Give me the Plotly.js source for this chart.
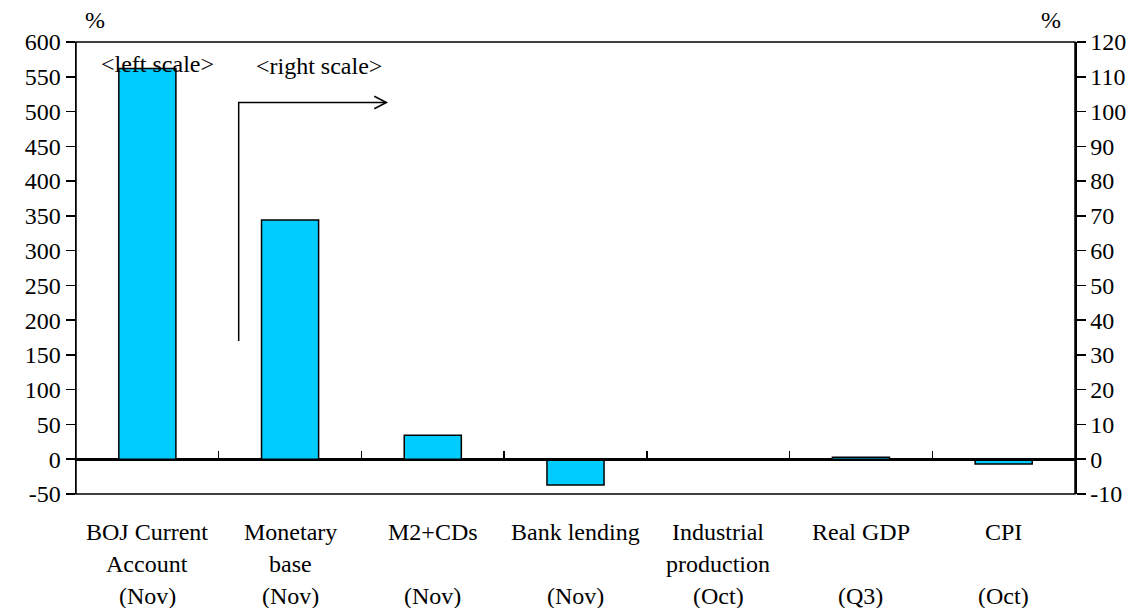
<!DOCTYPE html>
<html>
<head>
<meta charset="utf-8">
<script src="https://cdn.plot.ly/plotly-3.0.1.min.js"></script>
<style>html,body{margin:0;padding:0;background:#fff;}#chart{width:1143px;height:608px;}</style>
</head>
<body>
<div id="chart"></div>
<script>
// Categories (x-axis)
var categories = ["BOJ Current Account", "Monetary base", "M2+CDs", "Bank lending", "Industrial production", "Real GDP", "CPI"];
var labelLine1 = ["BOJ Current", "Monetary", "M2+CDs", "Bank lending", "Industrial", "Real GDP", "CPI"];
var labelLine2 = ["Account", "base", "", "", "production", "", ""];
var labelLine3 = ["(Nov)", "(Nov)", "(Nov)", "(Nov)", "(Oct)", "(Q3)", "(Oct)"];

// Left-scale series (% y/y)
var leftCats = ["BOJ Current Account"];
var leftValues = [562];

// Right-scale series (% y/y)
var rightCats = ["Monetary base", "M2+CDs", "Bank lending", "Industrial production", "Real GDP", "CPI"];
var rightValues = [68.8, 6.9, -7.4, 0, 0.6, -1.4];

// Axis ticks
var leftTicks = [-50, 0, 50, 100, 150, 200, 250, 300, 350, 400, 450, 500, 550, 600];
var rightTicks = [-10, 0, 10, 20, 30, 40, 50, 60, 70, 80, 90, 100, 110, 120];

var FONT = "'Liberation Serif', 'Times New Roman', serif";
var FS = 24;
var barColor = "#00CCFF";

var traces = [
  {type: "bar", x: leftCats, y: leftValues, yaxis: "y", width: 0.4,
   marker: {color: barColor, line: {color: "#000", width: 1.5}}, hoverinfo: "x+y"},
  {type: "bar", x: rightCats, y: rightValues, yaxis: "y2", width: 0.4,
   marker: {color: barColor, line: {color: "#000", width: 1.5}}, hoverinfo: "x+y"}
];

var annotations = [];
var ly = [-0.085, -0.155, -0.225];
[labelLine1, labelLine2, labelLine3].forEach(function (arr, li) {
  arr.forEach(function (t, i) {
    if (!t) return;
    annotations.push({x: categories[i], xref: "x", y: ly[li], yref: "paper",
      text: t, showarrow: false, xanchor: "center", yanchor: "middle",
      font: {family: FONT, size: FS, color: "#000"}});
  });
});
annotations.push({x: 0.007, xref: "paper", y: 1.015, yref: "paper", text: "%", showarrow: false,
  xanchor: "left", yanchor: "bottom", font: {family: FONT, size: FS, color: "#000"}});
annotations.push({x: 0.988, xref: "paper", y: 1.015, yref: "paper", text: "%", showarrow: false,
  xanchor: "right", yanchor: "bottom", font: {family: FONT, size: FS, color: "#000"}});
annotations.push({x: 0.07, xref: "x", y: 569, yref: "y", text: "&lt;left scale&gt;", showarrow: false,
  xanchor: "center", yanchor: "middle", font: {family: FONT, size: FS, color: "#000"}});
annotations.push({x: 1.2, xref: "x", y: 565, yref: "y", text: "&lt;right scale&gt;", showarrow: false,
  xanchor: "center", yanchor: "middle", font: {family: FONT, size: FS, color: "#000"}});

var shapes = [
  // frame
  {type: "rect", xref: "paper", yref: "paper", x0: 0, x1: 1, y0: 0, y1: 1,
   line: {color: "#000", width: 1.5}, fillcolor: "rgba(0,0,0,0)", layer: "above"},
  // elbow arrow
  {type: "path", xref: "x", yref: "y", path: "M 0.64 170 L 0.64 513 L 1.675 513",
   line: {color: "#000", width: 1.5}},
  {type: "path", xref: "x", yref: "y", path: "M 1.59 522 L 1.675 513 L 1.59 504",
   line: {color: "#000", width: 1.5}}
];

var layout = {
  width: 1143, height: 608,
  margin: {l: 76, r: 68, t: 42, b: 114},
  paper_bgcolor: "#fff", plot_bgcolor: "#fff",
  showlegend: false,
  font: {family: FONT, size: FS, color: "#000"},
  xaxis: {type: "category", categoryorder: "array", categoryarray: categories,
    range: [-0.5, 6.5], showticklabels: false, anchor: "free", position: 50 / 650,
    showline: true, linecolor: "#000", linewidth: 1.5,
    ticks: "inside", tickson: "boundaries", ticklen: 8, tickcolor: "#000", tickwidth: 1.5,
    showgrid: false, zeroline: false, fixedrange: true},
  yaxis: {range: [-50, 600], tickvals: leftTicks, ticktext: leftTicks.map(String),
    ticks: "outside", ticklen: 9, tickwidth: 1.5, tickcolor: "#000",
    showline: true, linecolor: "#000", linewidth: 1.5, showgrid: false,
    zeroline: true, zerolinecolor: "#000", zerolinewidth: 1.5,
    tickfont: {family: FONT, size: FS, color: "#000"}, fixedrange: true},
  yaxis2: {range: [-10, 120], tickvals: rightTicks, ticktext: rightTicks.map(String),
    overlaying: "y", side: "right", anchor: "x",
    ticks: "outside", ticklen: 9, tickwidth: 1.5, tickcolor: "#000",
    showline: true, linecolor: "#000", linewidth: 1.5, showgrid: false, zeroline: false,
    tickfont: {family: FONT, size: FS, color: "#000"}, fixedrange: true},
  annotations: annotations,
  shapes: shapes
};

Plotly.newPlot("chart", traces, layout, {displayModeBar: false, staticPlot: true});
</script>
</body>
</html>
